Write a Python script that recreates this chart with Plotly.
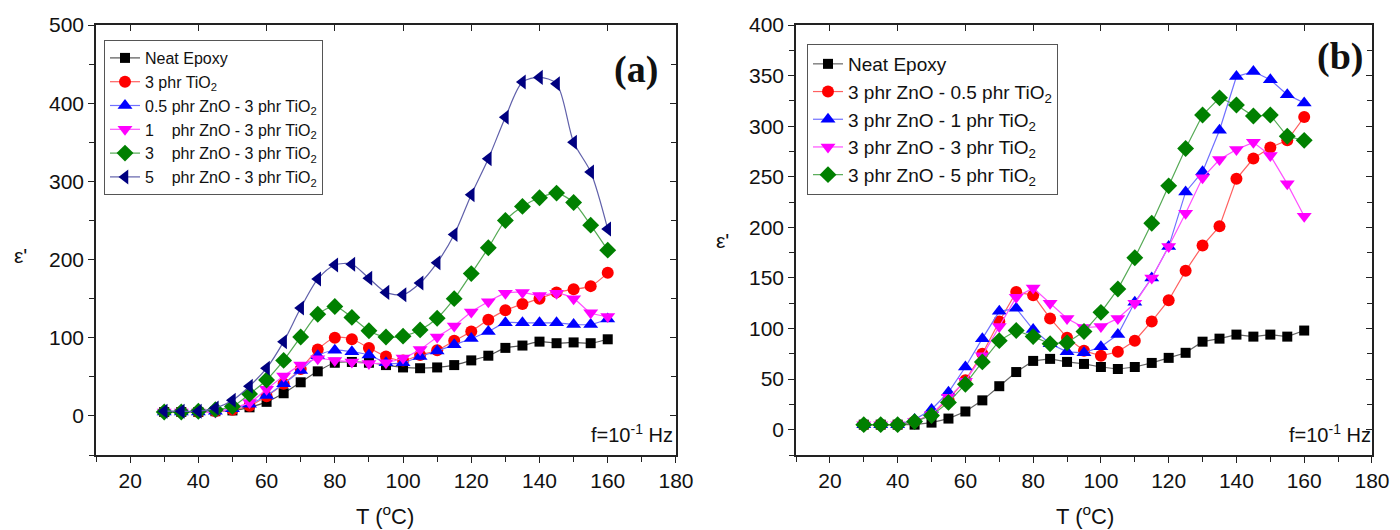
import plotly.graph_objects as go

# ---------------- data ----------------
T = [30, 35, 40, 45, 50, 55, 60, 65, 70, 75, 80, 85, 90, 95, 100,
     105, 110, 115, 120, 125, 130, 135, 140, 145, 150, 155, 160]

# panel (a)
a_neat = [5, 5, 5, 6, 7, 11, 18, 29, 43, 57, 68, 69, 68, 65, 62,
          61, 62, 65, 71, 77, 87, 90, 95, 93, 94, 93, 98]
a_tio2 = [5, 5, 5, 6, 8, 13, 25, 41, 60, 85, 100, 98, 87, 76, 71,
          78, 84, 96, 108, 123, 135, 143, 150, 158, 162, 166, 183]
a_05zno = [5, 5, 5, 6, 9, 15, 26, 41, 58, 77, 84, 82, 78, 68, 68,
           76, 83, 91, 99, 108, 119, 119, 119, 119, 117, 117, 124]
a_1zno = [5, 5, 5, 5, 10, 17, 34, 51, 65, 73, 71, 69, 67, 68, 74,
          85, 101, 115, 133, 146, 157, 158, 154, 157, 150, 132, 127]
a_3zno = [5, 5, 6, 8, 12, 28, 46, 71, 101, 130, 140, 126, 109, 101, 102,
          110, 125, 150, 182, 215, 250, 268, 279, 285, 273, 244, 212]
a_5zno = [6, 6, 6, 10, 20, 38, 61, 95, 138, 175, 193, 194, 176, 158, 155,
          170, 196, 232, 283, 329, 382, 427, 433, 425, 350, 312, 239]

# panel (b)
b_neat = [5, 5, 5, 5, 7, 11, 18, 29, 43, 57, 68, 70, 67, 65, 62,
          60, 62, 66, 71, 76, 87, 90, 94, 92, 94, 92, 98]
b_05tio2 = [5, 5, 5, 8, 15, 30, 49, 75, 107, 136, 133, 110, 91, 78, 73,
            77, 88, 107, 128, 157, 182, 201, 248, 268, 279, 286, 309]
b_1tio2 = [5, 5, 5, 10, 20, 37, 62, 90, 117, 120, 99, 85, 77, 76, 82,
           94, 126, 150, 181, 235, 255, 296, 349, 354, 346, 331, 323]
b_3tio2 = [5, 5, 5, 8, 15, 32, 48, 73, 102, 131, 140, 125, 110, 101, 102,
           110, 125, 150, 181, 214, 249, 267, 277, 284, 271, 243, 211]
b_5tio2 = [5, 5, 5, 8, 14, 27, 45, 67, 88, 98, 92, 85, 86, 97, 116,
           139, 170, 204, 241, 278, 311, 328, 321, 310, 311, 290, 286]

names_a = ["Neat Epoxy", "3 phr TiO<sub>2</sub>",
           "0.5 phr ZnO - 3 phr TiO<sub>2</sub>",
           "1    phr ZnO - 3 phr TiO<sub>2</sub>",
           "3    phr ZnO - 3 phr TiO<sub>2</sub>",
           "5    phr ZnO - 3 phr TiO<sub>2</sub>"]
names_b = ["Neat Epoxy", "3 phr ZnO - 0.5 phr TiO<sub>2</sub>",
           "3 phr ZnO - 1 phr TiO<sub>2</sub>",
           "3 phr ZnO - 3 phr TiO<sub>2</sub>",
           "3 phr ZnO - 5 phr TiO<sub>2</sub>"]

# ---------------- styles ----------------
sty_a = [("square", 10, "#000000", "#555555"),
         ("circle", 12, "#ff0000", "#ff6060"),
         ("triangle-up", 13, "#0000ff", "#7070ff"),
         ("triangle-down", 13, "#ff00ff", "#ff50ff"),
         ("diamond", 13, "#008000", "#55aa55"),
         ("triangle-left", 13, "#000080", "#6060aa")]
sty_b = [("square", 10, "#000000", "#666666"),
         ("circle", 12, "#ff0000", "#ff6060"),
         ("triangle-up", 13, "#0000ff", "#7070ff"),
         ("triangle-down", 13, "#ff00ff", "#ff50ff"),
         ("diamond", 13, "#008000", "#55aa55")]

FONT = "Liberation Sans, Arial, sans-serif"
SERIF = "Liberation Serif, Times New Roman, serif"

W, H = 1400, 530


def px(x):
    return x / W


def py(y):
    return 1 - y / H


fig = go.Figure()

for ys, nm, (sym, sz, mc, lc) in zip([a_neat, a_tio2, a_05zno, a_1zno, a_3zno, a_5zno], names_a, sty_a):
    fig.add_trace(go.Scatter(x=T, y=ys, name=nm, mode="lines+markers",
                             line=dict(color=lc, width=1.2, shape="spline", smoothing=0.8),
                             marker=dict(symbol=sym, size=sz, color=mc),
                             xaxis="x", yaxis="y", legend="legend"))

for ys, nm, (sym, sz, mc, lc) in zip([b_neat, b_05tio2, b_1tio2, b_3tio2, b_5tio2], names_b, sty_b):
    fig.add_trace(go.Scatter(x=T, y=ys, name=nm, mode="lines+markers",
                             line=dict(color=lc, width=1.2),
                             marker=dict(symbol=sym, size=sz, color=mc),
                             xaxis="x2", yaxis="y2", legend="legend2"))

# empty helpers so that the mirrored (top/right) frame axes are drawn
for xa, ya in (("x3", "y3"), ("x4", "y4")):
    fig.add_trace(go.Scatter(x=[None], y=[None], xaxis=xa, yaxis=ya,
                             showlegend=False, hoverinfo="skip", mode="markers"))

dom_xa = [px(96), px(676)]
dom_xb = [px(796), px(1372)]
dom_y = [py(455), py(25)]

axcol = "#222222"
tickfont = dict(family=FONT, size=21, color="#111111")


def xax(domain, anchor):
    return dict(domain=domain, anchor=anchor, range=[10, 180.01], dtick=20,
                tick0=0,
                automargin=False, ticklabeloverflow="allow",
                showgrid=False, zeroline=False, showline=True, linecolor=axcol,
                linewidth=1.5, ticks="outside", ticklen=6, tickwidth=1.2,
                tickcolor=axcol, tickfont=tickfont,
                minor=dict(dtick=10, ticks="outside", ticklen=5, tickwidth=1.2,
                           tickcolor=axcol, showgrid=False))


def yax(domain, anchor, rng, dt, mdt):
    return dict(domain=domain, anchor=anchor, range=rng, dtick=dt,
                automargin=False, ticklabeloverflow="allow",
                showgrid=False, zeroline=False, showline=True, linecolor=axcol,
                linewidth=1.5, ticks="outside", ticklen=6, tickwidth=1.2,
                tickcolor=axcol, tickfont=tickfont,
                minor=dict(dtick=mdt, ticks="outside", ticklen=5, tickwidth=1.2,
                           tickcolor=axcol, showgrid=False))


def xtop(over, anchor):
    return dict(overlaying=over, anchor=anchor, side="top", range=[10, 180.01],
                automargin=False,
                dtick=20, showgrid=False, zeroline=False, showline=True,
                linecolor=axcol, linewidth=1.5, ticks="inside", ticklen=6,
                tickwidth=1.2, tickcolor=axcol, showticklabels=False)


def yright(over, anchor, rng, dt, mdt):
    return dict(overlaying=over, anchor=anchor, side="right", range=rng,
                automargin=False,
                dtick=dt, showgrid=False, zeroline=False, showline=True,
                linecolor=axcol, linewidth=1.5, ticks="inside", ticklen=6,
                tickwidth=1.2, tickcolor=axcol, showticklabels=False,
                minor=dict(dtick=mdt, ticks="inside", ticklen=5, tickwidth=1.2,
                           tickcolor=axcol))


fig.update_layout(
    width=W, height=H,
    margin=dict(l=0, r=0, t=0, b=0, pad=0, autoexpand=False),
    paper_bgcolor="white", plot_bgcolor="white",
    font=dict(family=FONT, color="#111111"),
    xaxis=xax(dom_xa, "y"),
    yaxis=yax(dom_y, "x", [-50, 500], 100, 50),
    xaxis2=xax(dom_xb, "y2"),
    yaxis2=yax(dom_y, "x2", [-25, 400], 50, 25),
    xaxis3=xtop("x", "y"),
    yaxis3=yright("y", "x", [-50, 500], 100, 50),
    xaxis4=xtop("x2", "y2"),
    yaxis4=yright("y2", "x2", [-25, 400], 50, 25),
    legend=dict(x=px(104), y=py(40), xanchor="left", yanchor="top",
                bgcolor="white", bordercolor="#555555", borderwidth=1,
                font=dict(family=FONT, size=16, color="#111111"),
                tracegroupgap=0, itemwidth=30),
    legend2=dict(x=px(807), y=py(44), xanchor="left", yanchor="top",
                 bgcolor="white", bordercolor="#555555", borderwidth=1,
                 font=dict(family=FONT, size=19, color="#111111"),
                 tracegroupgap=0, itemwidth=30),
    showlegend=True,
)

ann = []


def add_text(text, x, y, size, family=FONT):
    ann.append(dict(text=text, x=px(x), y=py(y), xref="paper", yref="paper",
                    xanchor="center", yanchor="middle", showarrow=False,
                    font=dict(family=family, size=size, color="#111111")))


add_text("<b>(a)</b>", 636, 70, 38, SERIF)
add_text("<b>(b)</b>", 1340, 57, 38, SERIF)
add_text("f=10<sup>-1</sup> Hz", 632, 433, 20)
add_text("f=10<sup>-1</sup> Hz", 1330, 433, 20)
add_text("T (<sup>o</sup>C)", 385, 515, 22)
add_text("T (<sup>o</sup>C)", 1085, 515, 22)
add_text("ε'", 20, 255, 21)
add_text("ε'", 722, 240, 21)
fig.update_layout(annotations=ann)

# remove the browser's default page margin so the 1400x530 figure fills the window
post = ("document.body.style.margin='0';"
        "document.body.style.overflow='hidden';"
        "document.documentElement.style.overflow='hidden';")
fig.write_html("out.html", post_script=post, config={"displayModeBar": False})
